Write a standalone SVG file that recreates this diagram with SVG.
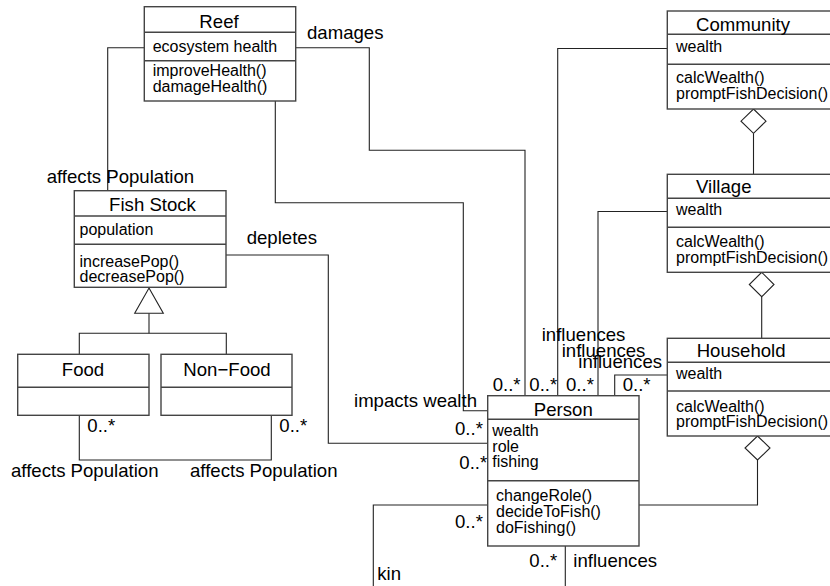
<svg xmlns="http://www.w3.org/2000/svg" width="830" height="586" viewBox="0 0 830 586">
  <style>
    text { font-family: "Liberation Sans", Arial, Helvetica, sans-serif; fill: #000; }
    .title { font-size: 18.6px; }
    .body { font-size: 16px; }
    .label { font-size: 18.6px; }
    .box { fill: #fff; stroke: #444; stroke-width: 1.4; }
    .sep { stroke: #444; stroke-width: 1.4; }
    .conn { fill: none; stroke: #222; stroke-width: 1.1; }
    .head { fill: #fff; stroke: #222; stroke-width: 1.1; }
  </style>
  <rect width="830" height="586" fill="#fff"/>

  <!-- connectors -->
  <g id="connectors">
    <!-- Reef to Fish Stock: affects Population -->
    <polyline class="conn" points="144.3,47.7 107.7,47.7 107.7,190.7"/>
    <!-- Reef to Person: damages -->
    <polyline class="conn" points="295.7,47.7 369.3,47.7 369.3,150.3 525,150.3 525,395.7"/>
    <!-- Reef to Person: impacts wealth -->
    <polyline class="conn" points="275.3,101 275.3,202.7 463.3,202.7 463.3,410.7 487.7,410.7"/>
    <!-- Fish Stock to Person: depletes -->
    <polyline class="conn" points="226,255 328.3,255 328.3,443.3 487.7,443.3"/>
    <!-- generalisation of Food / Non-Food -->
    <polyline class="conn" points="79.3,354.3 79.3,333.3 226.3,333.3 226.3,354.3"/>
    <line class="conn" x1="149" y1="313.3" x2="149" y2="333.3"/>
    <polygon class="head" points="149,288 163.3,313.3 134.7,313.3"/>
    <!-- Food / Non-Food: affects Population -->
    <polyline class="conn" points="79.3,415.3 79.3,460 271.3,460 271.3,415.3"/>
    <!-- Community / Village / Household to Person: influences -->
    <polyline class="conn" points="667.3,48.5 557.7,48.5 557.7,395.7"/>
    <polyline class="conn" points="667.3,211.5 598,211.5 598,395.7"/>
    <polyline class="conn" points="667.3,375 614.7,375 614.7,395.7"/>
    <!-- aggregations -->
    <line class="conn" x1="753.5" y1="133.3" x2="753.5" y2="174.3"/>
    <polygon class="head" points="753.5,109 766,121.2 753.5,133.3 741,121.2"/>
    <line class="conn" x1="761.7" y1="296.7" x2="761.7" y2="338.3"/>
    <polygon class="head" points="761.7,272.3 774,284.5 761.7,296.7 749.3,284.5"/>
    <polyline class="conn" points="757.5,460 757.5,505 639,505"/>
    <polygon class="head" points="757.5,436 770,448 757.5,460 745,448"/>
    <!-- Person self associations -->
    <polyline class="conn" points="487.7,505 373.3,505 373.3,586"/>
    <line class="conn" x1="565.3" y1="546" x2="565.3" y2="586"/>
  </g>

  <!-- connector labels -->
  <g id="labels" class="label">
    <text x="307" y="39.3">damages</text>
    <text x="46.7" y="183.3">affects Population</text>
    <text x="246.7" y="243.5">depletes</text>
    <text x="87.3" y="431.5">0..*</text>
    <text x="279.3" y="431.5">0..*</text>
    <text x="11" y="476.7">affects Population</text>
    <text x="190" y="476.7">affects Population</text>
    <text x="354" y="407.3">impacts wealth</text>
    <text x="455" y="435">0..*</text>
    <text x="459.3" y="469">0..*</text>
    <text x="455" y="528.3">0..*</text>
    <text x="492.7" y="391">0..*</text>
    <text x="529.3" y="391">0..*</text>
    <text x="566" y="391">0..*</text>
    <text x="622.7" y="391">0..*</text>
    <text x="541.7" y="340.7">influences</text>
    <text x="561.7" y="356.7">influences</text>
    <text x="578.3" y="368.3">influences</text>
    <text x="529.3" y="566.5">0..*</text>
    <text x="573.3" y="566.5">influences</text>
    <text x="377.3" y="580">kin</text>
  </g>

  <!-- Reef -->
  <g id="reef">
    <rect class="box" x="144.3" y="6.7" width="151.4" height="94.3"/>
    <line class="sep" x1="144.3" y1="32.3" x2="295.7" y2="32.3"/>
    <line class="sep" x1="144.3" y1="60.7" x2="295.7" y2="60.7"/>
    <text class="title" x="219" y="27.7" text-anchor="middle">Reef</text>
    <text class="body" x="152.7" y="52.3">ecosystem health</text>
    <text class="body" x="152.7" y="76">improveHealth()</text>
    <text class="body" x="152.7" y="91.7">damageHealth()</text>
  </g>

  <!-- Fish Stock -->
  <g id="fish-stock">
    <rect class="box" x="74.3" y="190.7" width="151.7" height="96.6"/>
    <line class="sep" x1="74.3" y1="216" x2="226" y2="216"/>
    <line class="sep" x1="74.3" y1="244.3" x2="226" y2="244.3"/>
    <text class="title" x="152.5" y="210.7" text-anchor="middle">Fish Stock</text>
    <text class="body" x="79.5" y="235">population</text>
    <text class="body" x="79.5" y="266.7">increasePop()</text>
    <text class="body" x="79.5" y="281.7">decreasePop()</text>
  </g>

  <!-- Food -->
  <g id="food">
    <rect class="box" x="17.7" y="354.3" width="131.3" height="61"/>
    <line class="sep" x1="17.7" y1="387.3" x2="149" y2="387.3"/>
    <text class="title" x="83" y="376" text-anchor="middle">Food</text>
  </g>

  <!-- Non-Food -->
  <g id="non-food">
    <rect class="box" x="161" y="354.3" width="131" height="61"/>
    <line class="sep" x1="161" y1="387.3" x2="292" y2="387.3"/>
    <text class="title" x="227" y="376" text-anchor="middle">Non−Food</text>
  </g>

  <!-- Person -->
  <g id="person">
    <rect class="box" x="487.7" y="395.7" width="151.3" height="150.3"/>
    <line class="sep" x1="487.7" y1="419.3" x2="639" y2="419.3"/>
    <line class="sep" x1="487.7" y1="480.7" x2="639" y2="480.7"/>
    <text class="title" x="563.3" y="416" text-anchor="middle">Person</text>
    <text class="body" x="492.3" y="435.7">wealth</text>
    <text class="body" x="492.3" y="451.7">role</text>
    <text class="body" x="492.3" y="467.3">fishing</text>
    <text class="body" x="496" y="500.7">changeRole()</text>
    <text class="body" x="496" y="516.7">decideToFish()</text>
    <text class="body" x="496" y="532.7">doFishing()</text>
  </g>

  <!-- Community -->
  <g id="community">
    <rect class="box" x="667.3" y="11" width="175" height="98"/>
    <line class="sep" x1="667.3" y1="34.3" x2="842" y2="34.3"/>
    <line class="sep" x1="667.3" y1="64.3" x2="842" y2="64.3"/>
    <text class="title" x="696" y="31">Community</text>
    <text class="body" x="676" y="51.7">wealth</text>
    <text class="body" x="676" y="82.7">calcWealth()</text>
    <text class="body" x="676" y="98.7">promptFishDecision()</text>
  </g>

  <!-- Village -->
  <g id="village">
    <rect class="box" x="667.3" y="174.3" width="175" height="98"/>
    <line class="sep" x1="667.3" y1="198.3" x2="842" y2="198.3"/>
    <line class="sep" x1="667.3" y1="227.3" x2="842" y2="227.3"/>
    <text class="title" x="696" y="192.7">Village</text>
    <text class="body" x="676" y="215">wealth</text>
    <text class="body" x="676" y="247.3">calcWealth()</text>
    <text class="body" x="676" y="262.7">promptFishDecision()</text>
  </g>

  <!-- Household -->
  <g id="household">
    <rect class="box" x="667.3" y="338.3" width="175" height="97.7"/>
    <line class="sep" x1="667.3" y1="362.3" x2="842" y2="362.3"/>
    <line class="sep" x1="667.3" y1="391" x2="842" y2="391"/>
    <text class="title" x="696.7" y="357.3">Household</text>
    <text class="body" x="676" y="379.3">wealth</text>
    <text class="body" x="676" y="411.7">calcWealth()</text>
    <text class="body" x="676" y="427.3">promptFishDecision()</text>
  </g>
</svg>
